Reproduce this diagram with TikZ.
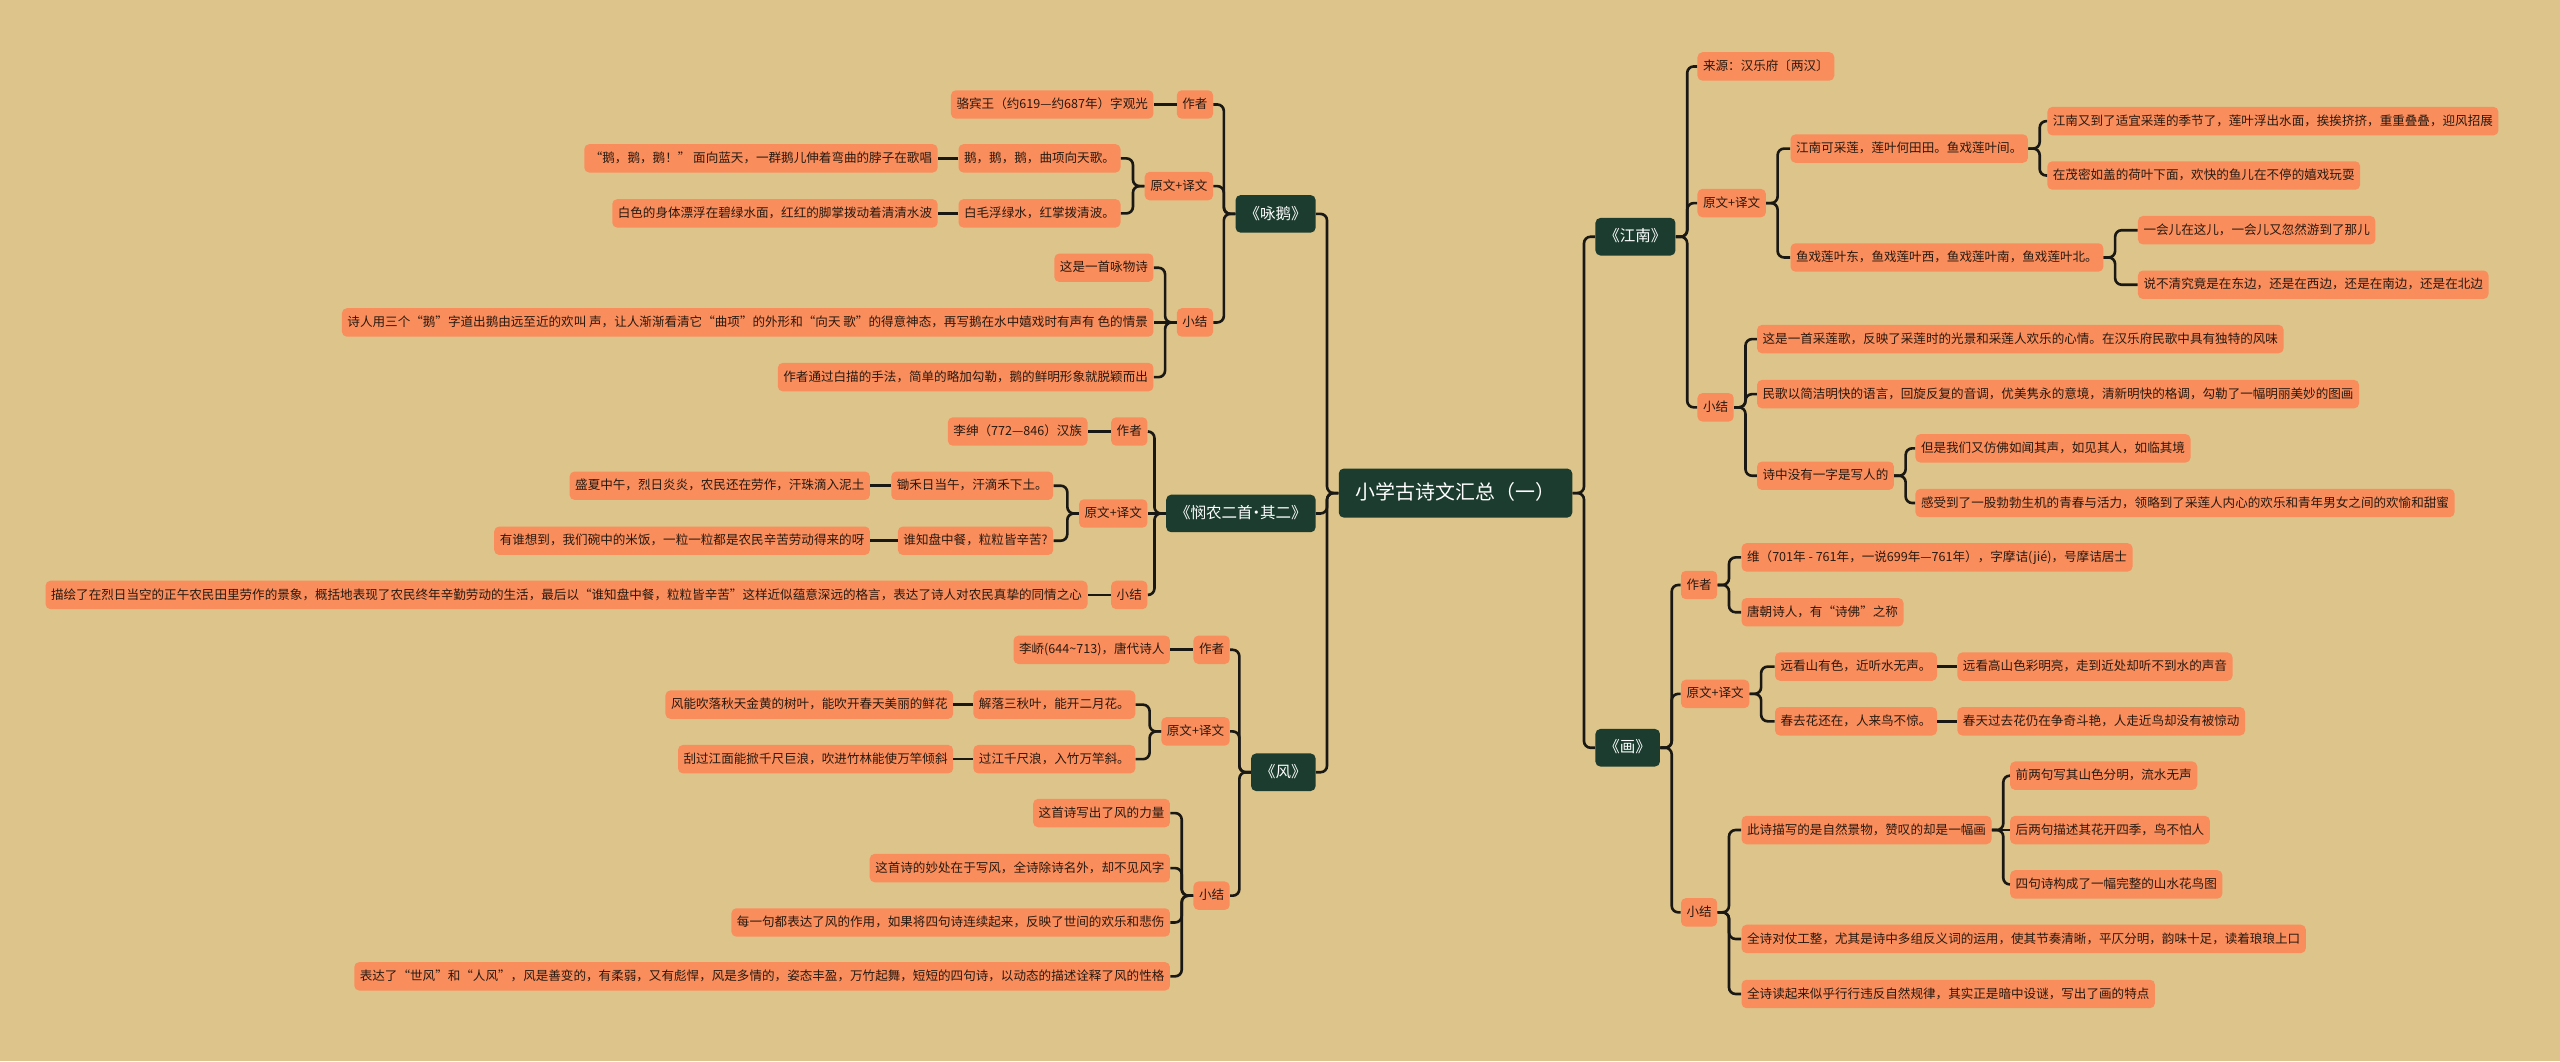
\documentclass[tikz,border=0pt]{standalone}
\usepackage{fontspec}
\setmainfont{Noto Sans CJK SC}
\newfontfamily\fwfont{Noto Sans CJK SC}[RawFeature=+fwid]
\newcommand{\qo}{{\fwfont “}}
\newcommand{\qc}{{\fwfont ”}}
\usepackage{xcolor}
\definecolor{mmtan}{RGB}{221,196,138}
\definecolor{mmorange}{RGB}{250,141,92}
\definecolor{mmgreen}{RGB}{28,60,47}
\definecolor{mmline}{RGB}{26,24,20}
\definecolor{mmtext}{RGB}{40,26,16}

\begin{document}
\begin{tikzpicture}[x=1pt, y=-1pt,
    root/.style={fill=mmgreen, rounded corners=3pt, text=white,
          font=\fontsize{12.2}{14}\selectfont, minimum width=143pt,
          minimum height=30pt, text height=10pt, text depth=2pt},
    topic/.style={fill=mmgreen, rounded corners=3pt, text=white,
          font=\fontsize{9.5}{11}\selectfont, inner xsep=5.5pt,
          minimum height=23pt, text height=8pt, text depth=1.6pt},
    leaf/.style={fill=mmorange, rounded corners=3pt, text=mmtext,
          font=\fontsize{7.7}{9}\selectfont, inner xsep=3.4pt, inner ysep=0pt,
          minimum height=17.4pt, text height=6.3pt, text depth=1.3pt},
    link/.style={draw=mmline, line width=1.6pt, rounded corners=4pt}]
    \useasboundingbox (0,0) rectangle (1568,650);
    \fill[mmtan] (0,0) rectangle (1568,650);

    \node[root] (title) at (891.5,302) {小学古诗文汇总（一）};

    % left: 咏鹅
    \node[topic, anchor=east] (ye) at (806,131) {《咏鹅》};
    \node[leaf, anchor=east] (ye-zz) at (743.2,64) {作者};
    \node[leaf, anchor=east] (ye-zz1) at (706.7,64) {骆宾王（约619—约687年）字观光};
    \node[leaf, anchor=east] (ye-yw) at (743.2,114) {原文+译文};
    \node[leaf, anchor=east] (ye-yw1) at (686.5,97) {鹅，鹅，鹅，曲项向天歌。};
    \node[leaf, anchor=east] (ye-yw1t) at (574.5,97) {\qo 鹅，鹅，鹅！\qc\ 面向蓝天，一群鹅儿伸着弯曲的脖子在歌唱};
    \node[leaf, anchor=east] (ye-yw2) at (686.5,130.7) {白毛浮绿水，红掌拨清波。};
    \node[leaf, anchor=east] (ye-yw2t) at (574.5,130.7) {白色的身体漂浮在碧绿水面，红红的脚掌拨动着清清水波};
    \node[leaf, anchor=east] (ye-xj) at (743.2,197.5) {小结};
    \node[leaf, anchor=east] (ye-xj1) at (706.7,164) {这是一首咏物诗};
    \node[leaf, anchor=east] (ye-xj2) at (706.7,197.5) {诗人用三个\qo 鹅\qc 字道出鹅由远至近的欢叫 声，让人渐渐看清它\qo 曲项\qc 的外形和\qo 向天 歌\qc 的得意神态，再写鹅在水中嬉戏时有声有 色的情景};
    \node[leaf, anchor=east] (ye-xj3) at (706.7,231) {作者通过白描的手法，简单的略加勾勒，鹅的鲜明形象就脱颖而出};

    % left: 悯农
    \node[topic, anchor=east] (mn) at (806,314.5) {《悯农二首\kern-2.5pt·\kern-2.5pt 其二》};
    \node[leaf, anchor=east] (mn-zz) at (703,264.3) {作者};
    \node[leaf, anchor=east] (mn-zz1) at (666.3,264.3) {李绅（772—846）汉族};
    \node[leaf, anchor=east] (mn-yw) at (703,314.5) {原文+译文};
    \node[leaf, anchor=east] (mn-yw1) at (645.3,297.5) {锄禾日当午，汗滴禾下土。};
    \node[leaf, anchor=east] (mn-yw1t) at (533,297.5) {盛夏中午，烈日炎炎，农民还在劳作，汗珠滴入泥土};
    \node[leaf, anchor=east] (mn-yw2) at (645.3,331.2) {谁知盘中餐，粒粒皆辛苦?};
    \node[leaf, anchor=east] (mn-yw2t) at (533,331.2) {有谁想到，我们碗中的米饭，一粒一粒都是农民辛苦劳动得来的呀};
    \node[leaf, anchor=east] (mn-xj) at (703,364.4) {小结};
    \node[leaf, anchor=east] (mn-xj1) at (666.3,364.4) {描绘了在烈日当空的正午农民田里劳作的景象，概括地表现了农民终年辛勤劳动的生活，最后以\qo 谁知盘中餐，粒粒皆辛苦\qc 这样近似蕴意深远的格言，表达了诗人对农民真挚的同情之心};

    % left: 风
    \node[topic, anchor=east] (fe) at (806,473) {《风》};
    \node[leaf, anchor=east] (fe-zz) at (753.4,398) {作者};
    \node[leaf, anchor=east] (fe-zz1) at (716.8,398) {李峤(644\textasciitilde713)，唐代诗人};
    \node[leaf, anchor=east] (fe-yw) at (753.4,448) {原文+译文};
    \node[leaf, anchor=east] (fe-yw1) at (695.6,431.6) {解落三秋叶，能开二月花。};
    \node[leaf, anchor=east] (fe-yw1t) at (584,431.6) {风能吹落秋天金黄的树叶，能吹开春天美丽的鲜花};
    \node[leaf, anchor=east] (fe-yw2) at (695.6,465) {过江千尺浪，入竹万竿斜。};
    \node[leaf, anchor=east] (fe-yw2t) at (584,465) {刮过江面能掀千尺巨浪，吹进竹林能使万竿倾斜};
    \node[leaf, anchor=east] (fe-xj) at (753.4,548.6) {小结};
    \node[leaf, anchor=east] (fe-xj1) at (716.8,498) {这首诗写出了风的力量};
    \node[leaf, anchor=east] (fe-xj2) at (716.8,531.7) {这首诗的妙处在于写风，全诗除诗名外，却不见风字};
    \node[leaf, anchor=east] (fe-xj3) at (716.8,565) {每一句都表达了风的作用，如果将四句诗连续起来，反映了世间的欢乐和悲伤};
    \node[leaf, anchor=east] (fe-xj4) at (716.8,598) {表达了\qo 世风\qc 和\qo 人风\qc ，风是善变的，有柔弱，又有彪悍，风是多情的，姿态丰盈，万竹起舞，短短的四句诗，以动态的描述诠释了风的性格};

    % right: 江南
    \node[topic, anchor=west] (jn) at (977,145) {《江南》};
    \node[leaf, anchor=west] (jn-ly) at (1039.5,40.7) {来源：汉乐府〔两汉〕};
    \node[leaf, anchor=west] (jn-yw) at (1039.5,124.4) {原文+译文};
    \node[leaf, anchor=west] (jn-yw1) at (1096.5,91) {江南可采莲，莲叶何田田。鱼戏莲叶间。};
    \node[leaf, anchor=west] (jn-yw1a) at (1253.8,74.2) {江南又到了适宜采莲的季节了，莲叶浮出水面，挨挨挤挤，重重叠叠，迎风招展};
    \node[leaf, anchor=west] (jn-yw1b) at (1253.8,107.5) {在茂密如盖的荷叶下面，欢快的鱼儿在不停的嬉戏玩耍};
    \node[leaf, anchor=west] (jn-yw2) at (1096.5,157.7) {鱼戏莲叶东，鱼戏莲叶西，鱼戏莲叶南，鱼戏莲叶北。};
    \node[leaf, anchor=west] (jn-yw2a) at (1309.3,141) {一会儿在这儿，一会儿又忽然游到了那儿};
    \node[leaf, anchor=west] (jn-yw2b) at (1309.3,174.4) {说不清究竟是在东边，还是在西边，还是在南边，还是在北边};
    \node[leaf, anchor=west] (jn-xj) at (1039.5,249.5) {小结};
    \node[leaf, anchor=west] (jn-xj1) at (1076,207.7) {这是一首采莲歌，反映了采莲时的光景和采莲人欢乐的心情。在汉乐府民歌中具有独特的风味};
    \node[leaf, anchor=west] (jn-xj2) at (1076,241.4) {民歌以简洁明快的语言，回旋反复的音调，优美隽永的意境，清新明快的格调，勾勒了一幅明丽美妙的图画};
    \node[leaf, anchor=west] (jn-xj3) at (1076,291.4) {诗中没有一字是写人的};
    \node[leaf, anchor=west] (jn-xj3a) at (1173,274.6) {但是我们又仿佛如闻其声，如见其人，如临其境};
    \node[leaf, anchor=west] (jn-xj3b) at (1173,308.1) {感受到了一股勃勃生机的青春与活力，领略到了采莲人内心的欢乐和青年男女之间的欢愉和甜蜜};

    % right: 画
    \node[topic, anchor=west] (hu) at (977,458) {《画》};
    \node[leaf, anchor=west] (hu-zz) at (1029.4,358.3) {作者};
    \node[leaf, anchor=west] (hu-zz1) at (1066.5,341.4) {维（701年 - 761年，一说699年—761年），字摩诘(jié)，号摩诘居士};
    \node[leaf, anchor=west] (hu-zz2) at (1066.5,375) {唐朝诗人，有\qo 诗佛\qc 之称};
    \node[leaf, anchor=west] (hu-yw) at (1029.4,425) {原文+译文};
    \node[leaf, anchor=west] (hu-yw1) at (1087,408.3) {远看山有色，近听水无声。};
    \node[leaf, anchor=west] (hu-yw1t) at (1198.7,408.3) {远看高山色彩明亮，走到近处却听不到水的声音};
    \node[leaf, anchor=west] (hu-yw2) at (1087,441.8) {春去花还在，人来鸟不惊。};
    \node[leaf, anchor=west] (hu-yw2t) at (1198.7,441.8) {春天过去花仍在争奇斗艳，人走近鸟却没有被惊动};
    \node[leaf, anchor=west] (hu-xj) at (1029.4,558.8) {小结};
    \node[leaf, anchor=west] (hu-xj1) at (1066.5,508.4) {此诗描写的是自然景物，赞叹的却是一幅画};
    \node[leaf, anchor=west] (hu-xj1a) at (1231,475.1) {前两句写其山色分明，流水无声};
    \node[leaf, anchor=west] (hu-xj1b) at (1231,508.4) {后两句描述其花开四季，鸟不怕人};
    \node[leaf, anchor=west] (hu-xj1c) at (1231,541.7) {四句诗构成了一幅完整的山水花鸟图};
    \node[leaf, anchor=west] (hu-xj2) at (1066.5,575.1) {全诗对仗工整，尤其是诗中多组反义词的运用，使其节奏清晰，平仄分明，韵味十足，读着琅琅上口};
    \node[leaf, anchor=west] (hu-xj3) at (1066.5,608.8) {全诗读起来似乎行行违反自然规律，其实正是暗中设谜，写出了画的特点};

    % connectors: elbows
    \foreach \p/\c in {title/ye, title/mn, title/fe,
        ye/ye-zz, ye/ye-yw, ye/ye-xj,
        ye-yw/ye-yw1, ye-yw/ye-yw2, ye-xj/ye-xj1, ye-xj/ye-xj3,
        mn/mn-zz, mn/mn-xj, mn-yw/mn-yw1, mn-yw/mn-yw2,
        fe/fe-zz, fe/fe-yw, fe/fe-xj, fe-yw/fe-yw1, fe-yw/fe-yw2,
        fe-xj/fe-xj1, fe-xj/fe-xj2, fe-xj/fe-xj3, fe-xj/fe-xj4}
        \draw[link] (\p.west) -- ++(-7,0) |- (\c.east);
    \foreach \p/\c in {title/jn, title/hu,
        jn/jn-ly, jn/jn-yw, jn/jn-xj,
        jn-yw/jn-yw1, jn-yw/jn-yw2, jn-yw1/jn-yw1a, jn-yw1/jn-yw1b,
        jn-yw2/jn-yw2a, jn-yw2/jn-yw2b,
        jn-xj/jn-xj1, jn-xj/jn-xj2, jn-xj/jn-xj3, jn-xj3/jn-xj3a, jn-xj3/jn-xj3b,
        hu/hu-zz, hu/hu-yw, hu/hu-xj, hu-zz/hu-zz1, hu-zz/hu-zz2,
        hu-yw/hu-yw1, hu-yw/hu-yw2,
        hu-xj/hu-xj1, hu-xj/hu-xj2, hu-xj/hu-xj3,
        hu-xj1/hu-xj1a, hu-xj1/hu-xj1c}
        \draw[link] (\p.east) -- ++(7,0) |- (\c.west);
    % connectors: straight
    \foreach \p/\c in {ye-zz/ye-zz1, ye-yw1/ye-yw1t, ye-yw2/ye-yw2t, ye-xj/ye-xj2,
        mn/mn-yw, mn-zz/mn-zz1, mn-yw1/mn-yw1t, mn-yw2/mn-yw2t, mn-xj/mn-xj1,
        fe-zz/fe-zz1, fe-yw1/fe-yw1t, fe-yw2/fe-yw2t}
        \draw[link] (\p.west) -- (\c.east);
    \foreach \p/\c in {hu-yw1/hu-yw1t, hu-yw2/hu-yw2t, hu-xj1/hu-xj1b}
        \draw[link] (\p.east) -- (\c.west);
\end{tikzpicture}
\end{document}
